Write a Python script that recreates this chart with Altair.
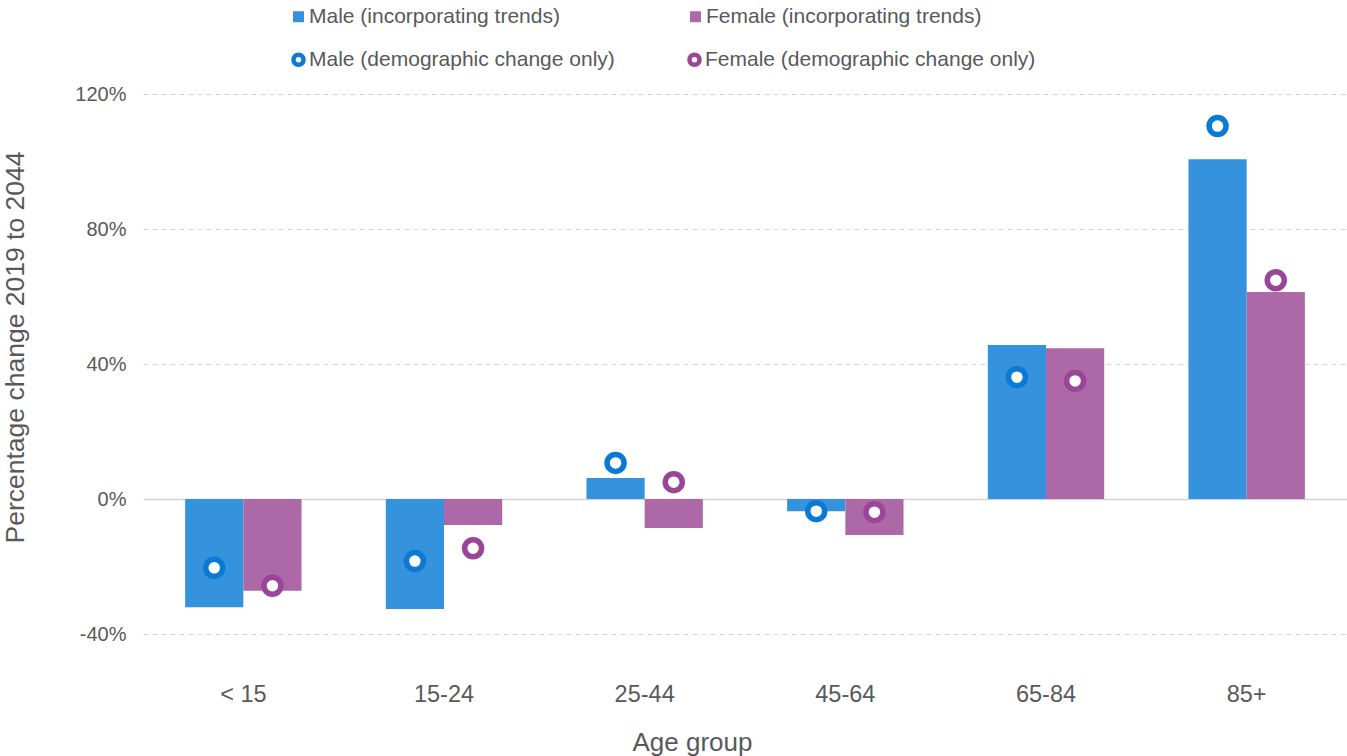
import altair as alt
import pandas as pd

ages = ["< 15", "15-24", "25-44", "45-64", "65-84", "85+"]
male_trend = [-32.1, -32.6, 6.2, -3.6, 45.6, 100.7]
female_trend = [-27.2, -7.7, -8.6, -10.7, 44.7, 61.3]
male_demo = [-20.4, -18.4, 10.7, -3.6, 36.1, 110.5]
female_demo = [-25.7, -14.6, 5.0, -3.9, 35.0, 64.8]

sexes = ["Male", "Female"]
trend_labels = ["Male (incorporating trends)", "Female (incorporating trends)"]
demo_labels = ["Male (demographic change only)", "Female (demographic change only)"]
y_ticks = [-40, 0, 40, 80, 120]

rows = []
for i, a in enumerate(ages):
    rows.append({"age": a, "sex": "Male", "trend": male_trend[i], "demo": male_demo[i],
                 "tlabel": trend_labels[0], "dlabel": demo_labels[0]})
    rows.append({"age": a, "sex": "Female", "trend": female_trend[i], "demo": female_demo[i],
                 "tlabel": trend_labels[1], "dlabel": demo_labels[1]})
df = pd.DataFrame(rows)

FONT = "Liberation Sans"
TXT = "#595959"

x_axis = alt.Axis(title="Age group", labelAngle=0, domain=False, ticks=False, grid=False,
                  labelPadding=48, titlePadding=24, labelFontSize=23.5,
                  titleFontSize=26, titleFontWeight="normal", titleX=549)
y_axis = alt.Axis(title="Percentage change 2019 to 2044", values=y_ticks,
                  labelExpr="datum.value + '%'", domain=False, ticks=False,
                  grid=True, gridColor="#d4d4d4",
                  gridDash=alt.condition("datum.value === 0", alt.value([1, 0]), alt.value([5, 4])),
                  gridWidth=alt.condition("datum.value === 0", alt.value(1.6), alt.value(1.2)),
                  gridOpacity=1,
                  labelPadding=17, titlePadding=45, labelFontSize=20,
                  titleFontSize=26.5, titleFontWeight="normal", titleY=253)

x_scale = alt.Scale(paddingInner=0.42, paddingOuter=0.21)
xo_scale = alt.Scale(paddingInner=0, paddingOuter=0)
y_scale = alt.Scale(domain=[-40, 120], nice=False)

base = alt.Chart(df)

bars = base.mark_bar().encode(
    x=alt.X("age:N", sort=ages, scale=x_scale, axis=x_axis),
    xOffset=alt.XOffset("sex:N", sort=sexes, scale=xo_scale),
    y=alt.Y("trend:Q", scale=y_scale, axis=y_axis),
    color=alt.Color("tlabel:N", sort=trend_labels,
                    scale=alt.Scale(domain=trend_labels, range=["#3592dc", "#ad69a7"]),
                    legend=alt.Legend(title=None, orient="none", legendX=145, legendY=-88,
                                      direction="horizontal", columns=2, columnPadding=125,
                                      symbolType="square", symbolSize=121, labelFontSize=21,
                                      labelOffset=0, labelColor=TXT, labelFont=FONT,
                                      labelLimit=500)),
)

points = base.mark_point(filled=True, fill="white", size=289, strokeWidth=5.5, opacity=1).encode(
    x=alt.X("age:N", sort=ages, scale=x_scale, axis=x_axis),
    xOffset=alt.XOffset("sex:N", sort=sexes, scale=xo_scale),
    y=alt.Y("demo:Q", scale=y_scale, axis=y_axis),
    stroke=alt.Stroke("dlabel:N", sort=demo_labels,
                      scale=alt.Scale(domain=demo_labels, range=["#0a7ad4", "#9b4598"]),
                      legend=alt.Legend(title=None, orient="none", legendX=145, legendY=-45,
                                        direction="horizontal", columns=2, columnPadding=65,
                                        symbolType="circle", symbolSize=100, symbolStrokeWidth=4.5,
                                        symbolFillColor="white", labelFontSize=21,
                                        labelOffset=0, labelColor=TXT, labelFont=FONT,
                                        labelLimit=500)),
)

chart = alt.layer(bars, points).properties(
    width=1204, height=540,
    padding={"left": 143, "top": 94, "right": 0, "bottom": 122},
    autosize=alt.AutoSizeParams(type="none"),
).configure_view(stroke=None).configure_axis(
    labelFont=FONT, titleFont=FONT, labelColor=TXT, titleColor=TXT,
).configure_legend(labelFont=FONT)

chart.save("out.html", embed_options={"renderer": "svg", "actions": False})
